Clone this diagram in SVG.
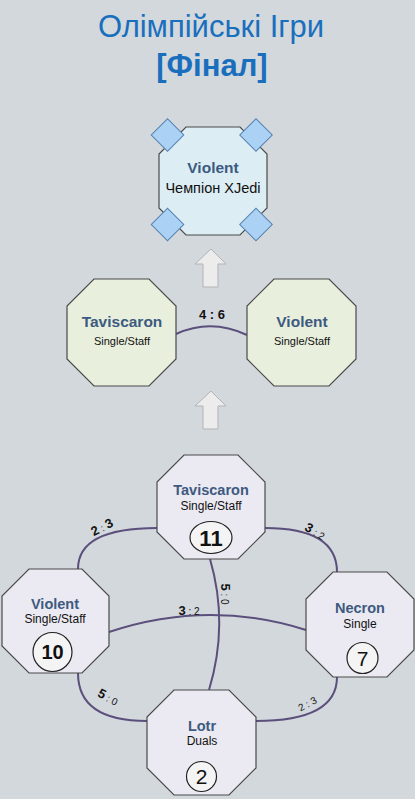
<svg xmlns="http://www.w3.org/2000/svg" width="415" height="799" viewBox="0 0 415 799">
<style>
text{font-family:"Liberation Sans",Arial,sans-serif}
.title{fill:#1a6fbd;font-size:31px;text-anchor:middle}
.oct{stroke:#4a4a4a;stroke-width:1.2}
.final{fill:#dcedf4}
.mid{fill:#e8efdc}
.grp{fill:#ebe9f1}
.nt{fill:#3d5a80;font-weight:bold;text-anchor:middle}
.ns{fill:#111;text-anchor:middle}
.dia{fill:#abd1f5;stroke:#5583b0;stroke-width:1}
.arrow{fill:#ececec;stroke:#b3b3b3;stroke-width:1}
.edge{fill:none;stroke:#5b4f7c;stroke-width:2}
.el{fill:#111;font-size:10px;text-anchor:middle}
.el .b{font-weight:bold;font-size:13px}
.badge{fill:#f4f4f4;stroke:#222;stroke-width:1.2}
.num{fill:#111;text-anchor:middle}
</style>
<rect width="415" height="799" fill="#d3d8dd"/>
<g id="title">
<text class="title" x="211" y="37">Олімпійські Ігри</text>
<text class="title" x="212" y="76" font-weight="bold">[Фінал]</text>
</g>
<g id="connectors">
<path class="edge" d="M176,334 Q211,318 247,335"/>
<text class="el" x="212" y="319"><tspan class="b">4 : 6</tspan></text>
<path class="edge" d="M78,569 Q78,528 157,528"/>
<text class="el" transform="translate(104,531) rotate(-27)"><tspan class="b">2</tspan> : <tspan class="b">3</tspan></text>
<path class="edge" d="M265,528 Q337,528 337,572"/>
<text class="el" transform="translate(313,535) rotate(30)"><tspan class="b">3</tspan> : 2</text>
<path class="edge" d="M109,632 Q208,599 306,630"/>
<text class="el" x="189" y="615"><tspan class="b">3</tspan> : 2</text>
<path class="edge" d="M210,559 Q229,624 209,690"/>
<text class="el" transform="translate(221,594) rotate(90)"><tspan class="b">5</tspan> : 0</text>
<path class="edge" d="M78,673 Q78,721 147,721"/>
<text class="el" transform="translate(106,701) rotate(28)"><tspan class="b">5</tspan> : 0</text>
<path class="edge" d="M337,677 Q337,721 256,721"/>
<text class="el" transform="translate(309,707) rotate(-28)">2 : 3</text>
</g>
<g id="arrows">
<path class="arrow" d="M211,249 L226,264 L218,264 L218,287 L203,287 L203,264 L195,264 Z"/>
<path class="arrow" d="M211,391 L226,406 L218,406 L218,429 L203,429 L203,406 L195,406 Z"/>
</g>
<g id="node-champion">
<polygon class="oct final" points="186,127 240,127 267,154 267,208 240,235 186,235 159,208 159,154"/>
<rect class="dia" x="156" y="123.5" width="23" height="23" transform="rotate(45 167.5 135)"/>
<rect class="dia" x="244.5" y="123.5" width="23" height="23" transform="rotate(45 256 135)"/>
<rect class="dia" x="156" y="213" width="23" height="23" transform="rotate(45 167.5 224.5)"/>
<rect class="dia" x="244.5" y="213" width="23" height="23" transform="rotate(45 256 224.5)"/>
<text class="nt" x="213" y="173" font-size="15.5">Violent</text>
<text class="ns" x="213" y="193" font-size="14.5">Чемпіон XJedi</text>
</g>
<g id="node-final-taviscaron">
<polygon class="oct mid" points="94,279 149,279 176,306 176,359 149,386 94,386 67,359 67,306"/>
<text class="nt" x="122" y="327" font-size="15.5">Taviscaron</text>
<text class="ns" x="122" y="345" font-size="11">Single/Staff</text>
</g>
<g id="node-final-violent">
<polygon class="oct mid" points="274,279 329,279 356,306 356,359 329,386 274,386 247,359 247,306"/>
<text class="nt" x="302" y="327" font-size="15.5">Violent</text>
<text class="ns" x="302" y="345" font-size="11">Single/Staff</text>
</g>
<g id="node-taviscaron">
<polygon class="oct grp" points="184,455 238,455 265,482 265,532 238,559 184,559 157,532 157,482"/>
<text class="nt" x="211" y="495" font-size="14.5">Taviscaron</text>
<text class="ns" x="211" y="510" font-size="12">Single/Staff</text>
<ellipse class="badge" cx="211" cy="537.5" rx="21" ry="16"/>
<text class="num" x="211" y="545.5" font-size="22" font-weight="bold">11</text>
</g>
<g id="node-violent">
<polygon class="oct grp" points="29,569 82,569 109,596 109,646 82,673 29,673 2,646 2,596"/>
<text class="nt" x="55" y="609" font-size="14.5">Violent</text>
<text class="ns" x="55" y="623" font-size="12">Single/Staff</text>
<circle class="badge" cx="52.5" cy="652" r="19.5"/>
<text class="num" x="52.5" y="659" font-size="20" font-weight="bold">10</text>
</g>
<g id="node-necron">
<polygon class="oct grp" points="333,572 387,572 414,599 414,650 387,677 333,677 306,650 306,599"/>
<text class="nt" x="360" y="613" font-size="14.5">Necron</text>
<text class="ns" x="360" y="628" font-size="12">Single</text>
<circle class="badge" cx="362.5" cy="658" r="15.5"/>
<text class="num" x="362.5" y="665.5" font-size="21">7</text>
</g>
<g id="node-lotr">
<polygon class="oct grp" points="174,690 229,690 256,717 256,768 229,795 174,795 147,768 147,717"/>
<text class="nt" x="202" y="731" font-size="14.5">Lotr</text>
<text class="ns" x="202" y="745" font-size="12">Duals</text>
<circle class="badge" cx="201.5" cy="776.5" r="15"/>
<text class="num" x="201.5" y="784" font-size="21">2</text>
</g>
</svg>
